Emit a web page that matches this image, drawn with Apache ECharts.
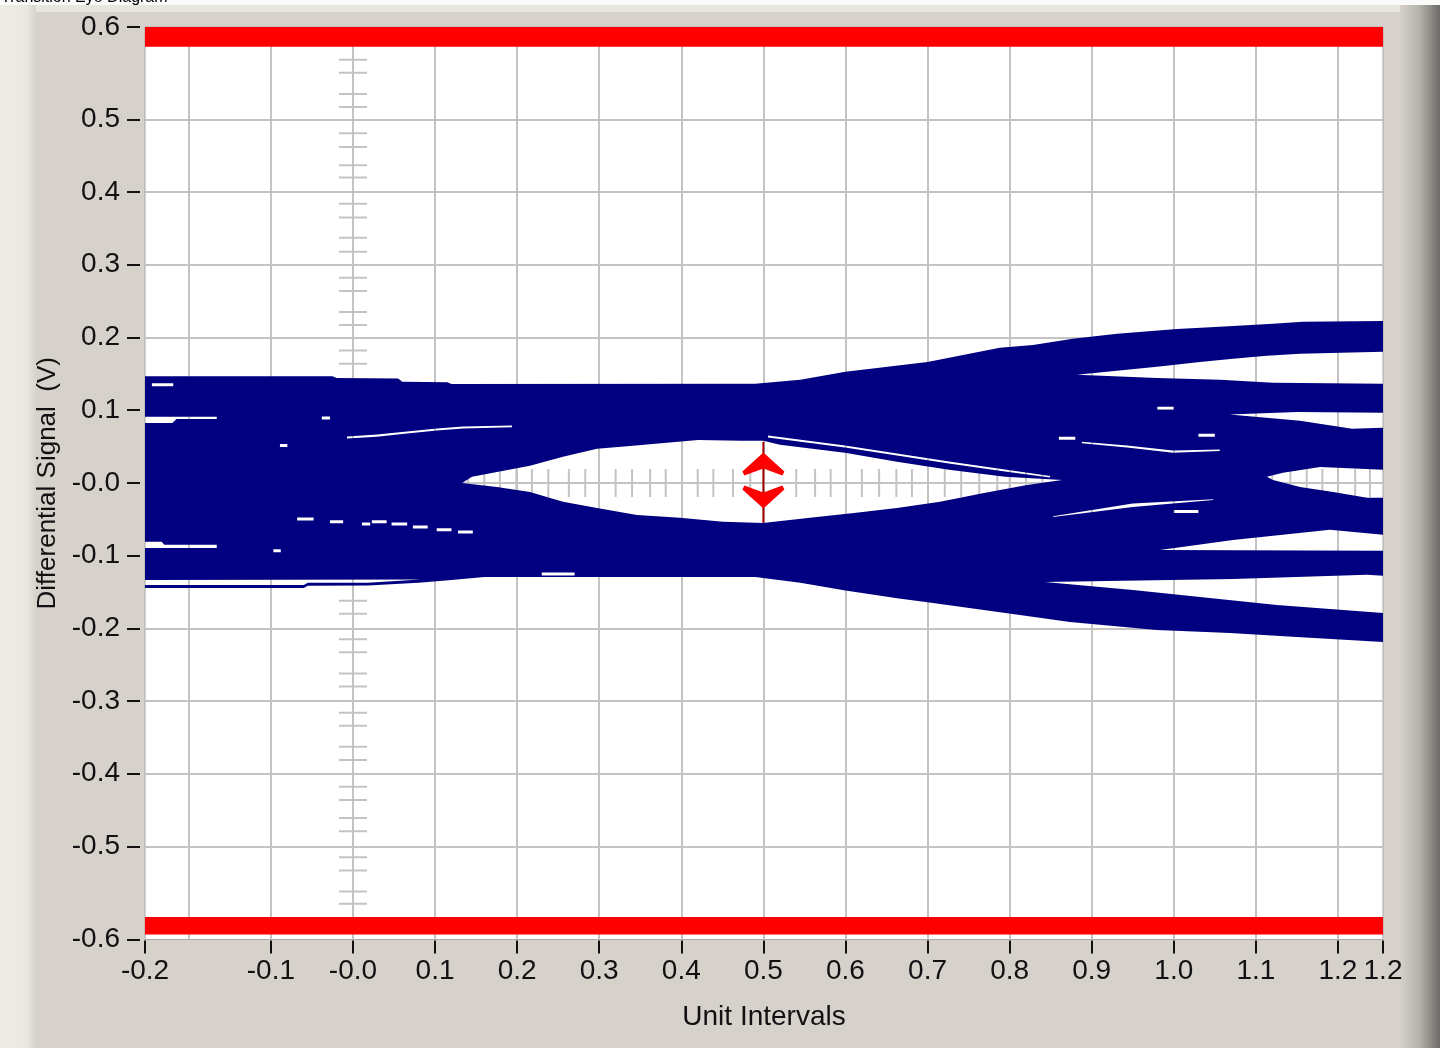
<!DOCTYPE html>
<html>
<head>
<meta charset="utf-8">
<title>Transition Eye Diagram</title>
<script src="https://cdn.jsdelivr.net/npm/echarts@6/dist/echarts.min.js"></script>
<style>
html, body { margin: 0; padding: 0; background: #d6d2cb; }
#chart { width: 1440px; height: 1048px; }
</style>
</head>
<body>
<div id="chart"></div>
<script>
// plot extents, the graph runs slightly past the end ticks
const xMin = -0.2534, xMax = 1.2549
const yMin = -0.628, yMax = 0.627

const xTickValues = [xMin, -0.1, 0, 0.1, 0.2, 0.3, 0.4, 0.5, 0.6, 0.7, 0.8, 0.9, 1.0, 1.1, 1.2, xMax]
const xTickLabels = ['-0.2', '-0.1', '-0.0', '0.1', '0.2', '0.3', '0.4', '0.5', '0.6', '0.7', '0.8', '0.9', '1.0', '1.1', '1.2', '1.2']
const xGridValues = [-0.2, -0.1, 0, 0.1, 0.2, 0.3, 0.4, 0.5, 0.6, 0.7, 0.8, 0.9, 1.0, 1.1, 1.2]

const yTickValues = [yMin, -0.5, -0.4, -0.3, -0.2, -0.1, 0, 0.1, 0.2, 0.3, 0.4, 0.5, yMax]
const yTickLabels = ['-0.6', '-0.5', '-0.4', '-0.3', '-0.2', '-0.1', '-0.0', '0.1', '0.2', '0.3', '0.4', '0.5', '0.6']
const yGridValues = [-0.5, -0.4, -0.3, -0.2, -0.1, 0, 0.1, 0.2, 0.3, 0.4, 0.5]

// mask limits (red)
const maskBands = [[0.6, 0.627], [-0.621, -0.597]]

// outline of all the traces
const envelopeTop = [[-0.254, 0.1465], [-0.025, 0.1465], [-0.02, 0.1444], [0.055, 0.1435], [0.06, 0.139], [0.115, 0.1385], [0.12, 0.136], [0.49, 0.1365], [0.545, 0.1417], [0.60, 0.1527], [0.70, 0.1664], [0.788, 0.1857], [0.8285, 0.1898], [0.877, 0.1981], [0.931, 0.205], [1.004, 0.2118], [1.056, 0.2146], [1.121, 0.2187], [1.157, 0.2215], [1.255, 0.2228]]
const envelopeBottom = [[-0.254, -0.1445], [-0.06, -0.1445], [-0.055, -0.1415], [0.018, -0.141], [0.08, -0.1375], [0.12, -0.1334], [0.16, -0.1293], [0.49, -0.1293], [0.545, -0.1375], [0.60, -0.148], [0.665, -0.159], [0.70, -0.164], [0.795, -0.1788], [0.8735, -0.1912], [0.9795, -0.2022], [1.0685, -0.2063], [1.15, -0.2118], [1.255, -0.2187]]

// openings inside the traces
const eyeTop = [[0.133, 0.0], [0.145, 0.0083], [0.1754, 0.0151], [0.2156, 0.0234], [0.2558, 0.0358], [0.2973, 0.0468], [0.3375, 0.0509], [0.4203, 0.0591], [0.4727, 0.0578], [0.50, 0.058], [0.5202, 0.0523], [0.5994, 0.0413], [0.6628, 0.0289], [0.7261, 0.0179], [0.7943, 0.0083], [0.8638, 0.004]]
const eyeBottom = [[0.133, 0.0], [0.1754, -0.0055], [0.2156, -0.0124], [0.2558, -0.0261], [0.2973, -0.0344], [0.346, -0.044], [0.3984, -0.0481], [0.4508, -0.0536], [0.4995, -0.055], [0.5568, -0.0481], [0.6104, -0.0413], [0.6628, -0.0344], [0.7152, -0.0261], [0.7688, -0.0138], [0.8212, -0.0028], [0.8638, 0.004]]

const gapATop = [[0.882, 0.1486], [0.9795, 0.1596], [1.0319, 0.1664], [1.0721, 0.1706], [1.1135, 0.1747], [1.1538, 0.1775], [1.255, 0.1802]]
const gapABottom = [[0.882, 0.1486], [0.9795, 0.1444], [1.0563, 0.1417], [1.1209, 0.1376], [1.255, 0.1362]]
const gapBTop = [[1.068, 0.094], [1.15, 0.0975], [1.255, 0.0965]]
const gapBBottom = [[1.068, 0.094], [1.1538, 0.0853], [1.2172, 0.0743], [1.255, 0.0757]]
const gapCTop = [[1.1135, 0.0083], [1.133, 0.0138], [1.1782, 0.022], [1.255, 0.0179]]
const gapCBottom = [[1.1135, 0.0083], [1.1209, 0.0041], [1.1538, -0.0055], [1.1941, -0.0124], [1.2355, -0.0206], [1.255, -0.0206]]
const gapDTop = [[0.9832, -0.0922], [1.0721, -0.0784], [1.1903, -0.0646], [1.255, -0.0715]]
const gapDBottom = [[0.9832, -0.0922], [1.255, -0.0935]]
const gapETop = [[0.8431, -0.1362], [1.0721, -0.1321], [1.2355, -0.1265], [1.255, -0.1279]]
const gapEBottom = [[0.8431, -0.1362], [0.9503, -0.1472], [1.0319, -0.1568], [1.1257, -0.1678], [1.255, -0.1788]]

const streak1Top = [[-0.254, 0.0908], [-0.166, 0.0908]]
const streak1Bottom = [[-0.254, 0.0825], [-0.22, 0.0825], [-0.215, 0.088], [-0.166, 0.088]]
const streak2Top = [[-0.0073, 0.0639], [0.0292, 0.0666], [0.0658, 0.0708], [0.1023, 0.0749], [0.134, 0.0777], [0.1937, 0.079]]
const streak2Bottom = [[-0.0073, 0.0609], [0.0292, 0.0636], [0.0658, 0.0678], [0.1023, 0.0719], [0.134, 0.0747], [0.1937, 0.0765]]
const streak3Top = [[-0.254, -0.081], [-0.233, -0.081], [-0.23, -0.085], [-0.166, -0.085]]
const streak3Bottom = [[-0.254, -0.0894], [-0.166, -0.0894]]
const streak4Top = [[-0.254, -0.1336], [0.082, -0.133]]
const streak4Bottom = [[-0.254, -0.1403], [-0.06, -0.1403], [-0.055, -0.1375], [0.018, -0.1372], [0.082, -0.133]]
const streak5Top = [[0.5056, 0.0653], [0.5994, 0.0515], [0.6628, 0.0405], [0.7261, 0.0295], [0.7943, 0.0185], [0.8492, 0.0095]]
const streak5Bottom = [[0.5056, 0.0623], [0.5994, 0.0485], [0.6628, 0.0375], [0.7261, 0.0265], [0.7943, 0.0155], [0.8492, 0.0075]]
const streak6Top = [[0.888, 0.0565], [0.943, 0.0515], [0.999, 0.0446], [1.056, 0.046]]
const streak6Bottom = [[0.888, 0.0545], [0.943, 0.0485], [0.999, 0.0416], [1.056, 0.044]]
const streak7Top = [[0.853, -0.0458], [0.95, -0.0283], [1.048, -0.0224]]
const streak7Bottom = [[0.853, -0.0468], [0.95, -0.0333], [1.048, -0.0234]]

const openings = [
  [eyeTop, eyeBottom], [gapATop, gapABottom], [gapBTop, gapBBottom], [gapCTop, gapCBottom],
  [gapDTop, gapDBottom], [gapETop, gapEBottom], [streak1Top, streak1Bottom], [streak2Top, streak2Bottom],
  [streak3Top, streak3Bottom], [streak4Top, streak4Bottom], [streak5Top, streak5Bottom],
  [streak6Top, streak6Bottom], [streak7Top, streak7Bottom]
]

// short white dashes between traces: [x start, x end, y]
const traceDashes = [
  [-0.245, -0.219, 0.135], [-0.038, -0.028, 0.0894], [-0.089, -0.080, 0.0513],
  [-0.068, -0.048, -0.0495], [-0.028, -0.012, -0.0536], [0.011, 0.021, -0.0564], [0.023, 0.041, -0.0536],
  [0.047, 0.066, -0.0564], [0.073, 0.091, -0.0605], [0.102, 0.120, -0.0646], [0.128, 0.146, -0.0674],
  [-0.097, -0.088, -0.0935], [0.23, 0.27, -0.1252],
  [0.98, 1.00, 0.1025], [1.03, 1.05, 0.0655], [0.86, 0.88, 0.0615], [1.0, 1.03, -0.0395]
]

// cursor ladders
const ladderX = 0
const ladderSpanY = [-0.597, 0.598]
const ladderTicksY = [0.582, 0.564, 0.535, 0.517, 0.481, 0.462, 0.437, 0.420, 0.384, 0.365, 0.337, 0.318, 0.282, 0.264, 0.235, 0.217, 0.182, 0.164,
  -0.162, -0.180, -0.215, -0.233, -0.262, -0.280, -0.316, -0.334, -0.363, -0.381, -0.418, -0.436, -0.461, -0.479, -0.515, -0.533, -0.562, -0.579]
const ladderY = 0
const ladderTicksX = [0.14, 0.16, 0.179, 0.199, 0.218, 0.238, 0.263, 0.283, 0.320, 0.340, 0.362, 0.381, 0.420, 0.439, 0.463, 0.484,
  0.540, 0.563, 0.582, 0.620, 0.641, 0.662, 0.681, 0.721, 0.741, 0.763, 0.785, 0.80, 0.82, 0.84, 1.12, 1.142, 1.162, 1.181, 1.221, 1.239]

// eye height marker
const eyeMarkerX = 0.5
const eyeMarkerTop = 0.0564
const eyeMarkerBottom = -0.055
const eyeMarkerMid = 0.002

const FONT = "'Liberation Sans', Arial, sans-serif"
const GRID_GRAY = '#c3c3c3'

function labelFor(values, labels) {
  return v => {
    const i = values.findIndex(t => Math.abs(t - v) < 1e-6)
    return i < 0 ? '' : labels[i]
  }
}

function toPath(pts) {
  return pts.map((c, i) => (i ? 'L' : 'M') + c[0].toFixed(2) + ' ' + c[1].toFixed(2)).join(' ') + ' Z '
}

function ring(api, top, bottom, hole) {
  // outline clockwise, openings the other way so they stay empty
  const pts = hole ? bottom.concat(top.slice().reverse()) : top.concat(bottom.slice().reverse())
  return toPath(pts.map(p => api.coord(p)))
}

function renderTraces(params, api) {
  let d = ring(api, envelopeTop, envelopeBottom, false)
  openings.forEach(o => { d += ring(api, o[0], o[1], true) })
  traceDashes.forEach(t => {
    const a = api.coord([t[0], t[2]])
    const b = api.coord([t[1], t[2]])
    d += toPath([[a[0], a[1] + 1.5], [b[0], b[1] + 1.5], [b[0], b[1] - 1.5], [a[0], a[1] - 1.5]])
  })
  return { type: 'path', shape: { pathData: d }, style: { fill: '#000080' } }
}

function seg(x1, y1, x2, y2, color, w) {
  return { type: 'line', shape: { x1, y1, x2, y2 }, style: { stroke: color, lineWidth: w } }
}

function renderLadders(params, api) {
  const kids = []
  const a = api.coord([ladderX, ladderSpanY[0]])
  const b = api.coord([ladderX, ladderSpanY[1]])
  kids.push(seg(a[0], a[1], b[0], b[1], GRID_GRAY, 2))
  ladderTicksY.forEach(v => {
    const c = api.coord([ladderX, v])
    kids.push(seg(c[0] - 14, c[1], c[0] + 14, c[1], GRID_GRAY, 2))
  })
  const l = api.coord([xMin, ladderY])
  const r = api.coord([xMax, ladderY])
  kids.push(seg(l[0], l[1], r[0], r[1], GRID_GRAY, 2))
  ladderTicksX.forEach(v => {
    const c = api.coord([v, ladderY])
    kids.push(seg(c[0], c[1] - 14, c[0], c[1] + 14, GRID_GRAY, 2))
  })
  return { type: 'group', children: kids }
}

function renderMask(params, api) {
  const band = maskBands[params.dataIndex]
  const p1 = api.coord([xMin, band[1]])
  const p2 = api.coord([xMax, band[0]])
  return { type: 'rect', shape: { x: p1[0], y: p1[1], width: p2[0] - p1[0], height: p2[1] - p1[1] }, style: { fill: '#ff0000' } }
}

function renderMarker(params, api) {
  const t = api.coord([eyeMarkerX, eyeMarkerTop])
  const b = api.coord([eyeMarkerX, eyeMarkerBottom])
  const m = api.coord([eyeMarkerX, eyeMarkerMid])
  const cx = m[0], cy = m[1]
  return {
    type: 'group',
    children: [
      seg(t[0], t[1], b[0], b[1], '#a00000', 2),
      { type: 'polygon', shape: { points: [[cx, cy - 29], [cx + 21, cy - 10], [cx + 19, cy - 6], [cx, cy - 13], [cx - 19, cy - 6], [cx - 21, cy - 10]] }, style: { fill: '#ff0000' } },
      { type: 'polygon', shape: { points: [[cx, cy + 27], [cx + 21, cy + 8], [cx + 19, cy + 4], [cx, cy + 11], [cx - 19, cy + 4], [cx - 21, cy + 8]] }, style: { fill: '#ff0000' } }
    ]
  }
}

const labelStyle = { fontSize: 28, fontFamily: FONT, color: '#111' }

let oChart = echarts.init(document.getElementById('chart'))
oChart.setOption({
  animation: false,
  backgroundColor: '#d6d2cb',
  graphic: [
    { type: 'rect', z: -100, shape: { x: 0, y: 0, width: 1440, height: 5 }, style: { fill: '#fafaf8' } },
    { type: 'rect', z: -100, shape: { x: 0, y: 5, width: 1420, height: 7 }, style: { fill: '#e8e5dd' } },
    { type: 'rect', z: -99, shape: { x: 0, y: 5, width: 36, height: 1043 },
      style: { fill: new echarts.graphic.LinearGradient(0, 0, 1, 0, [{ offset: 0, color: '#efece5' }, { offset: 0.75, color: '#ebe8e0' }, { offset: 1, color: '#d6d2cb' }]) } },
    { type: 'rect', z: -99, shape: { x: 1400, y: 5, width: 40, height: 1043 },
      style: { fill: new echarts.graphic.LinearGradient(0, 0, 1, 0, [{ offset: 0, color: '#d6d2cb' }, { offset: 0.5, color: '#b3b0aa' }, { offset: 1, color: '#6c6a66' }]) } },
    { type: 'text', z: -98, x: 1, y: 6, style: { text: 'Transition Eye Diagram', font: "16px 'Liberation Sans', Arial, sans-serif", fill: '#000', verticalAlign: 'bottom' } }
  ],
  grid: {
    left: 145, right: 57, top: 27, bottom: 108.5,
    show: true, backgroundColor: '#ffffff', borderColor: '#a8a8a8', borderWidth: 1
  },
  xAxis: [
    {
      type: 'value', min: xMin, max: xMax, position: 'bottom', offset: 1,
      name: 'Unit Intervals', nameLocation: 'middle', nameGap: 63,
      nameTextStyle: labelStyle,
      axisLine: { show: false, onZero: false },
      axisTick: { show: true, length: 13, lineStyle: { color: '#111', width: 2 }, customValues: xTickValues },
      axisLabel: Object.assign({ margin: 17, customValues: xTickValues, formatter: labelFor(xTickValues, xTickLabels) }, labelStyle),
      splitLine: { show: false }
    },
    {
      type: 'value', min: xMin, max: xMax, position: 'top',
      axisLine: { show: false, onZero: false },
      axisTick: { show: false, customValues: xGridValues },
      axisLabel: { show: false },
      splitLine: { show: true, lineStyle: { color: GRID_GRAY, width: 2 } }
    }
  ],
  yAxis: [
    {
      type: 'value', min: yMin, max: yMax, position: 'left', offset: 5,
      name: 'Differential Signal  (V)', nameLocation: 'middle', nameGap: 77, nameRotate: 90,
      nameTextStyle: { fontSize: 26, fontFamily: FONT, color: '#111' },
      axisLine: { show: false, onZero: false },
      axisTick: { show: true, length: 13, lineStyle: { color: '#111', width: 2 }, customValues: yTickValues },
      axisLabel: Object.assign({ margin: 20, customValues: yTickValues, formatter: labelFor(yTickValues, yTickLabels) }, labelStyle),
      splitLine: { show: false }
    },
    {
      type: 'value', min: yMin, max: yMax, position: 'right',
      axisLine: { show: false, onZero: false },
      axisTick: { show: false, customValues: yGridValues },
      axisLabel: { show: false },
      splitLine: { show: true, lineStyle: { color: GRID_GRAY, width: 2 } }
    }
  ],
  series: [
    { type: 'custom', name: 'cursor', z: 2, xAxisIndex: 0, yAxisIndex: 0, clip: true, renderItem: renderLadders, data: [[0, 0]], silent: true },
    { type: 'custom', name: 'traces', z: 3, xAxisIndex: 0, yAxisIndex: 0, clip: true, renderItem: renderTraces, data: [[0, 0]], silent: true },
    { type: 'custom', name: 'mask', z: 4, xAxisIndex: 0, yAxisIndex: 0, clip: true, renderItem: renderMask, data: maskBands.map(b => [xMin, b[0]]), silent: true },
    { type: 'custom', name: 'eye height', z: 5, xAxisIndex: 0, yAxisIndex: 0, renderItem: renderMarker, data: [[eyeMarkerX, eyeMarkerMid]], silent: true }
  ]
})
</script>
</body>
</html>
